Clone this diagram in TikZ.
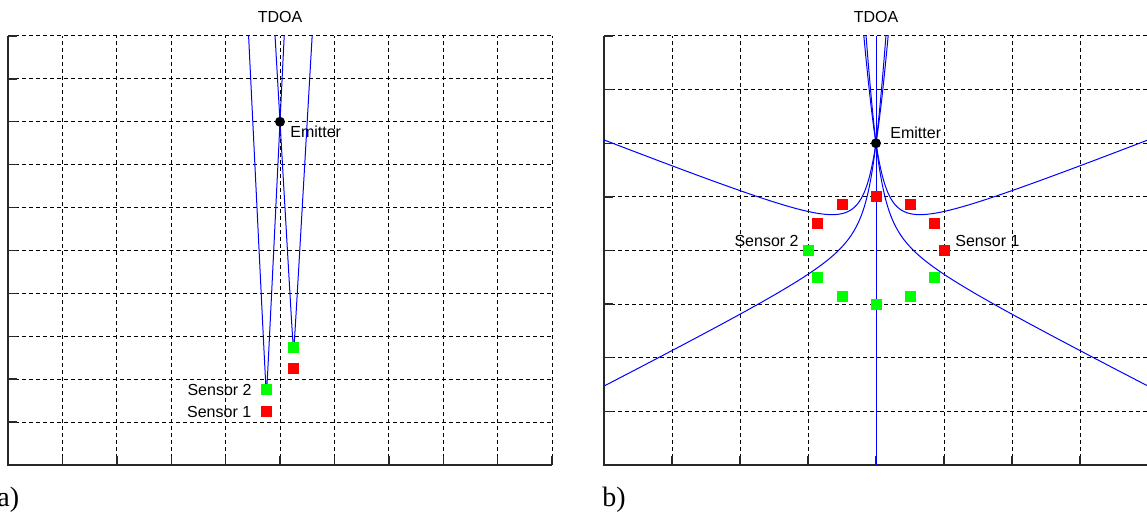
\documentclass[tikz,border=0pt]{standalone}
\usepackage{fontspec}
\setmainfont{Liberation Sans}
\newfontfamily\panelfont{Liberation Serif}
\usetikzlibrary{positioning}
\definecolor{curveBlue}{RGB}{0,0,255}
\definecolor{sensorRed}{RGB}{255,0,0}
\definecolor{sensorGreen}{RGB}{0,255,0}
\definecolor{axisGray}{RGB}{40,40,40}
\tikzset{
  gridline/.style={line width=0.5pt, dash pattern=on 2pt off 1.5pt, color=black},
  axisline/.style={line width=0.7pt, color=axisGray},
  hyper/.style={line width=0.5pt, color=curveBlue},
  sensorR/.style={rectangle, fill=sensorRed, minimum size=5.5pt, inner sep=0pt},
  sensorG/.style={rectangle, fill=sensorGreen, minimum size=5.5pt, inner sep=0pt},
  emitter/.style={circle, fill=black, minimum size=5pt, inner sep=0pt},
  lbl/.style={inner sep=0pt, font=\fontsize{8}{9.6}\selectfont},
  panel/.style={inner sep=0pt, font=\panelfont\fontsize{14}{16}\selectfont}
}
% one branch of a hyperbola: axis angle, a, b
\newcommand{\tdoabranch}[3]{%
  \draw[hyper] plot[domain=-2.7:2.7, samples=160, variable=\t]
    ({#2*cosh(\t)*cos(#1)-#3*sinh(\t)*sin(#1)}, {#2*cosh(\t)*sin(#1)+#3*sinh(\t)*cos(#1)});}

\begin{document}
\begin{tikzpicture}[x=0.5pt, y=0.5pt]
  \useasboundingbox (0,0) rectangle (1147,520);

  % panel a
  \begin{scope}[shift={(8,55)}, x=27.2pt, y=21.45pt]
    \foreach \i in {1,...,10} \draw[gridline] (\i,0) -- (\i,10);
    \foreach \j in {1,...,10} \draw[gridline] (0,\j) -- (10,\j);
    \draw[axisline] (0,10) -- (0,0) -- (10,0);
    \foreach \i in {1,...,10} \draw[axisline] (\i,0) -- ++(0,4.5pt);
    \foreach \j in {1,...,10} \draw[axisline] (0,\j) -- ++(4.5pt,0);
    \begin{scope}
      \clip (0,0) rectangle (10,10);
      \draw[hyper] plot[domain=-4.4:4.4, samples=200, variable=\t] ({4.75+0.009623*sinh(\t)}, {1.5+0.25*cosh(\t)});
      \draw[hyper] plot[domain=-4.3:4.3, samples=200, variable=\t] ({5.25+0.011375*sinh(\t)}, {2.5+0.25*cosh(\t)});
    \end{scope}
    \node[sensorR] (sA1) at (4.75,1.25) {};
    \node[sensorG] (sA2) at (4.75,1.75) {};
    \node[sensorG] (sA3) at (5.25,2.75) {};
    \node[sensorR] (sA4) at (5.25,2.25) {};
    \node[emitter] (emA) at (5,8) {};
    \node[lbl, right=5pt of emA.center, yshift=-5pt] (emlabA) {Emitter};
    \node[lbl, left=7.2pt of sA2.center] (labA2) {Sensor 2};
    \node[lbl, left=7.4pt of sA1.center, yshift=-0.5pt] (labA1) {Sensor 1};
    \node[lbl, anchor=base, yshift=6.5pt] (ttlA) at (5,10) {TDOA};
  \end{scope}

  % panel b
  \begin{scope}[shift={(876,269.5)}, x=34pt, y=26.8125pt]
    \foreach \i in {-3,...,4} \draw[gridline] (\i,-4) -- (\i,4);
    \foreach \j in {-3,...,4} \draw[gridline] (-4,\j) -- (4,\j);
    \draw[axisline] (-4,4) -- (-4,-4) -- (4,-4);
    \foreach \i in {-3,...,4} \draw[axisline] (\i,-4) -- ++(0,4.5pt);
    \foreach \j in {-3,...,4} \draw[axisline] (-4,\j) -- ++(4.5pt,0);
    \begin{scope}
      \clip (-4,-4) rectangle (4,4);
      \draw[hyper] (0,-4) -- (0,4);
      \tdoabranch{30}{0.45695}{0.88949}
      \tdoabranch{60}{0.835}{0.55025}
      \tdoabranch{120}{0.835}{0.55025}
      \tdoabranch{150}{0.45695}{0.88949}
    \end{scope}
    \foreach \ang in {0,30,...,150}
      \node[sensorR] (rB\ang) at ({cos(\ang)},{sin(\ang)}) {};
    \foreach \ang in {180,210,...,330}
      \node[sensorG] (gB\ang) at ({cos(\ang)},{sin(\ang)}) {};
    \node[emitter] (emB) at (0,2) {};
    \node[lbl, right=7pt of emB.center, yshift=5pt] (emlabB) {Emitter};
    \node[lbl, left=4.5pt of gB180.center, yshift=4.75pt] (labB2) {Sensor 2};
    \node[lbl, right=5.5pt of rB0.center, yshift=4.75pt] (labB1) {Sensor 1};
    \node[lbl, anchor=base, yshift=6.5pt] (ttlB) at (0,4) {TDOA};
  \end{scope}

  \node[panel, anchor=base west] (capA) at (-3,13) {a)};
  \node[panel, anchor=base west] (capB) at (602,13) {b)};
\end{tikzpicture}
\end{document}
